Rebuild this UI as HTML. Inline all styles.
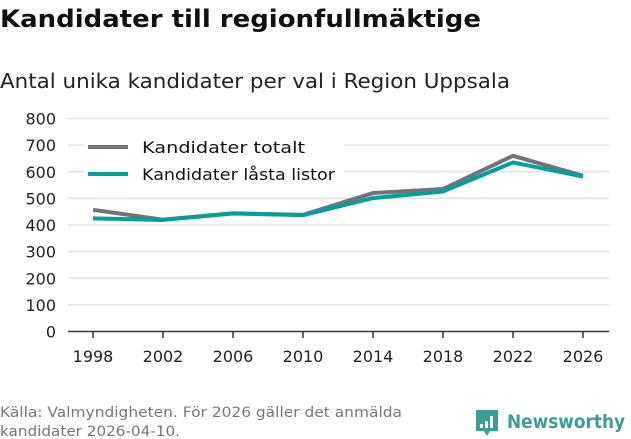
<!DOCTYPE html>
<html><head><meta charset="utf-8"><style>
html,body{margin:0;padding:0;background:#fff;}
svg{display:block;font-family:"DejaVu Sans","Liberation Sans",sans-serif;}
</style></head><body>
<svg id="chart" width="631" height="439" viewBox="0 0 631 439">
<text x="0" y="27" font-size="24" font-weight="bold" fill="#111" textLength="481" lengthAdjust="spacingAndGlyphs">Kandidater till regionfullmäktige</text>
<text x="0" y="88" font-size="20" fill="#222" textLength="510" lengthAdjust="spacingAndGlyphs">Antal unika kandidater per val i Region Uppsala</text>
<g id="grid"></g><g id="axes"></g><g id="lines"></g>
<g>
<rect x="84" y="135" width="260" height="52" fill="#fff"/>
<line x1="88" y1="147" x2="128" y2="147" stroke="#737179" stroke-width="4"/>
<text x="142" y="153" font-size="16" fill="#111" textLength="163" lengthAdjust="spacingAndGlyphs">Kandidater totalt</text>
<line x1="88" y1="174" x2="128" y2="174" stroke="#00a19a" stroke-width="4"/>
<text x="142" y="180" font-size="16" fill="#111" textLength="193" lengthAdjust="spacingAndGlyphs">Kandidater låsta listor</text>
</g>
<text x="0" y="417" font-size="14" fill="#777" textLength="402" lengthAdjust="spacingAndGlyphs">Källa: Valmyndigheten. För 2026 gäller det anmälda</text>
<text x="0" y="436" font-size="14" fill="#777" textLength="180" lengthAdjust="spacingAndGlyphs">kandidater 2026-04-10.</text>
<g>
<path d="M476 410 h22 v21 h-8 l-3 5 l-3 -5 h-8 z" fill="#3a9e93"/>
<rect x="480" y="424" width="3" height="4" fill="#fff"/><rect x="485" y="421" width="3" height="7" fill="#fff"/><rect x="490" y="416" width="3" height="12" fill="#fff"/>
<text x="507" y="428" font-size="19" font-weight="bold" fill="#3a9e93" textLength="118" lengthAdjust="spacingAndGlyphs">Newsworthy</text>
</g>
</svg>
<script>
const years=[1998,2002,2006,2010,2014,2018,2022,2026];
const totalt=[457,420,444,438,520,535,660,585];
const lasta=[425,419,443,437,501,526,635,582];
const yTicks=[0,100,200,300,400,500,600,700,800];
const NS='http://www.w3.org/2000/svg';
const x=v=>93+(v-1998)*(583-93)/28;
const y=v=>331.5-v*(331.5-118.5)/800;
function mk(t,a,p){const e=document.createElementNS(NS,t);for(const k in a)e.setAttribute(k,a[k]);p.appendChild(e);return e;}
const grid=document.getElementById('grid'),axes=document.getElementById('axes'),lines=document.getElementById('lines');
yTicks.forEach(t=>{
 if(t>0){const l=mk('line',{x1:68,x2:609,y1:y(t),y2:y(t),stroke:'#e2e2e2','stroke-width':1.5},grid);
 
 }
 const tx=mk('text',{x:56,y:y(t)+6,'font-size':16,fill:'#222','text-anchor':'end'},axes);tx.textContent=t;
 
 
});
const ax=mk('line',{x1:68,x2:609,y1:331.5,y2:331.5,stroke:'#333','stroke-width':1.5},axes);


years.forEach(yr=>{
 const tk=mk('line',{x1:x(yr),x2:x(yr),y1:331.5,y2:338,stroke:'#333','stroke-width':1.5},axes);
 
 
 const tx=mk('text',{x:x(yr),y:362,'font-size':16,fill:'#222','text-anchor':'middle'},axes);tx.textContent=yr;
 
 
});
function line(vals,color,name){
 const p=mk('polyline',{points:vals.map((v,i)=>x(years[i])+','+y(v)).join(' '),fill:'none',stroke:color,'stroke-width':4,'stroke-linejoin':'round'},lines);
 
 
}
line(totalt,'#737179','line-kandidater-totalt');
line(lasta,'#00a19a','line-kandidater-lasta-listor');
</script>
</body></html>
